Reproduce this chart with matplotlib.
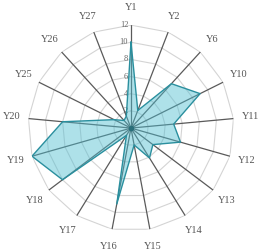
import numpy as np
import matplotlib
matplotlib.use("Agg")
import matplotlib.pyplot as plt

labels = ['Y1', 'Y2', 'Y6', 'Y10', 'Y11', 'Y12', 'Y13', 'Y14', 'Y15',
          'Y16', 'Y17', 'Y18', 'Y19', 'Y20', 'Y25', 'Y26', 'Y27']
values = [10, 2.2, 7, 9, 5, 6, 3.2, 4.1, 2, 9, 1, 10, 12, 8, 2.2, 1.2, 1.5]
rings = [2, 4, 6, 8, 10, 12]

plt.rcParams['font.family'] = ['Liberation Serif', 'DejaVu Serif']

n = len(labels)
theta = np.linspace(0, 2 * np.pi, n, endpoint=False)
closed = np.append(theta, theta[0])

fig = plt.figure(figsize=(2.62, 2.52), dpi=100)
ax = fig.add_axes([0.1069, 0.0833, 0.786, 0.817], projection='polar')
ax.set_theta_zero_location('N')
ax.set_theta_direction(-1)
ax.set_ylim(0, 12)
ax.axis('off')

# polygon grid rings
for r in rings:
    ax.plot(closed, [r] * (n + 1), color='#d4d4d4', lw=0.8, zorder=1)
# spokes
for t in theta:
    ax.plot([t, t], [0, 12], color='#5a5a5a', lw=0.9, zorder=2)

vals = values + values[:1]
ax.fill(closed, vals, color='#4dbdd0', alpha=0.45, zorder=3, lw=0)
ax.plot(closed, vals, color='#2a8f9e', lw=1.0, zorder=4)
ax.plot([0], [0], 'o', color='#2a6f7a', ms=3, zorder=5)

for t, lab in zip(theta, labels):
    ax.text(t, 14, lab, ha='center', va='center', fontsize=7.5, color='#555555')

for r in rings:
    ax.annotate(str(r), (0, r), xytext=(-2, 0), textcoords='offset points',
                ha='right', va='center', fontsize=6, color='#666666')

fig.savefig('out.png', dpi=100)
